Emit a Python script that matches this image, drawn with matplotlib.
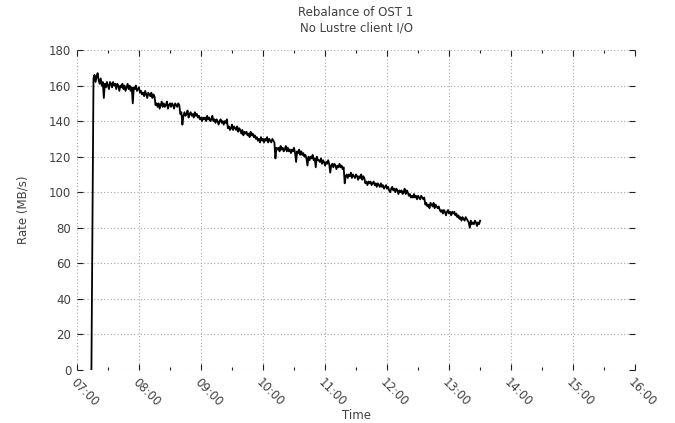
import numpy as np
import pandas as pd
import matplotlib
matplotlib.use("Agg")
import matplotlib.pyplot as plt
import matplotlib.dates as mdates

# OST 1 write rate, one sample per minute starting 07:14
start = "2014-01-01 07:14"
rate = [
    0, 82, 164, 166, 162, 165, 167, 163, 161, 164,
    160, 162, 153, 161, 159, 162, 160, 158, 162, 161,
    159, 162, 160, 161, 158, 161, 160, 157, 160, 159,
    161, 158, 160, 157, 159, 161, 158, 160, 157, 159,
    150, 159, 158, 160, 157, 158, 159, 156, 157, 155,
    156, 154, 157, 155, 153, 156, 155, 154, 156, 153,
    155, 154, 149, 150, 148, 150, 147, 149, 151, 148,
    150, 148, 149, 151, 147, 149, 150, 148, 150, 149,
    147, 150, 149, 148, 150, 149, 144, 145, 138, 143,
    145, 143, 144, 146, 142, 144, 145, 143, 144, 142,
    145, 143, 144, 142, 143, 141, 142, 140, 142, 141,
    142, 140, 143, 141, 142, 140, 141, 143, 140, 141,
    139, 141, 140, 138, 140, 141, 139, 140, 138, 140,
    139, 141, 136, 137, 135, 136, 138, 135, 137, 136,
    135, 137, 134, 136, 135, 133, 135, 132, 134, 133,
    134, 132, 133, 131, 134, 132, 133, 131, 132, 130,
    131, 129, 130, 128, 131, 129, 130, 128, 130, 129,
    131, 128, 130, 129, 128, 130, 129, 128, 119, 125,
    124, 125, 123, 126, 124, 125, 123, 124, 126, 123,
    125, 123, 124, 122, 124, 123, 125, 122, 117, 123,
    122, 124, 121, 123, 121, 122, 120, 121, 119, 115,
    120, 118, 120, 119, 121, 118, 119, 114, 120, 118,
    118, 117, 119, 116, 118, 117, 115, 117, 116, 118,
    116, 111, 115, 116, 114, 116, 115, 113, 115, 114,
    116, 114, 115, 113, 114, 105, 109, 110, 108, 110,
    109, 111, 108, 110, 109, 108, 110, 109, 107, 109,
    108, 110, 107, 109, 108, 105, 106, 104, 106, 105,
    106, 104, 105, 106, 104, 105, 103, 105, 104, 103,
    105, 103, 104, 102, 103, 104, 102, 103, 101, 100,
    102, 103, 101, 102, 100, 102, 101, 99, 101, 100,
    101, 99, 100, 102, 99, 101, 100, 98, 99, 97,
    98, 97, 99, 97, 98, 96, 98, 97, 96, 98,
    97, 96, 97, 93, 94, 92, 93, 91, 94, 93,
    92, 94, 91, 93, 92, 91, 92, 90, 89, 90,
    88, 90, 89, 87, 89, 90, 88, 89, 87, 89,
    88, 89, 87, 88, 86, 87, 85, 86, 84, 86,
    85, 84, 86, 85, 84, 83, 80, 84, 82, 83,
    82, 84, 83, 81, 83, 82, 84,
]
times = pd.date_range(start, periods=len(rate), freq="min")

x_from = pd.Timestamp("2014-01-01 07:00")
x_to = pd.Timestamp("2014-01-01 16:00")

txt = "#404040"
plt.rcParams["font.family"] = "DejaVu Sans"
plt.rcParams["font.size"] = 8.5

fig = plt.figure(figsize=(6.75, 4.23), dpi=100)
ax = fig.add_axes([0.114, 0.1253, 0.827, 0.7565])

ax.plot(times, rate, color="black", lw=1.3)

ax.set_xlim(x_from, x_to)
ax.set_ylim(0, 180)
ax.set_yticks(np.arange(0, 181, 20))
ax.xaxis.set_major_locator(mdates.HourLocator())
ax.xaxis.set_minor_locator(mdates.MinuteLocator(byminute=[30]))
ax.xaxis.set_major_formatter(mdates.DateFormatter("%H:%M"))

for s in ax.spines.values():
    s.set_visible(False)
ax.grid(True, which="major", color="#a8a8a8", lw=0.8, linestyle=(0, (1, 2)))
ax.tick_params(which="both", direction="in", top=True, right=True,
               color="#202020", width=0.8, labelcolor=txt)
ax.tick_params(which="major", length=4.5, pad=4)
ax.tick_params(which="minor", length=2.5)

for lab in ax.get_xticklabels():
    lab.set_rotation(-45)
    lab.set_ha("left")
    lab.set_va("top")
    lab.set_rotation_mode("anchor")

ax.set_xlabel("Time", color=txt, labelpad=0)
ax.set_ylabel("Rate (MB/s)", color=txt, labelpad=14)
ax.set_title("Rebalance of OST 1\nNo Lustre client I/O", color=txt,
             fontsize=8.5, pad=13, linespacing=1.25)

fig.savefig("out.png", dpi=100)
